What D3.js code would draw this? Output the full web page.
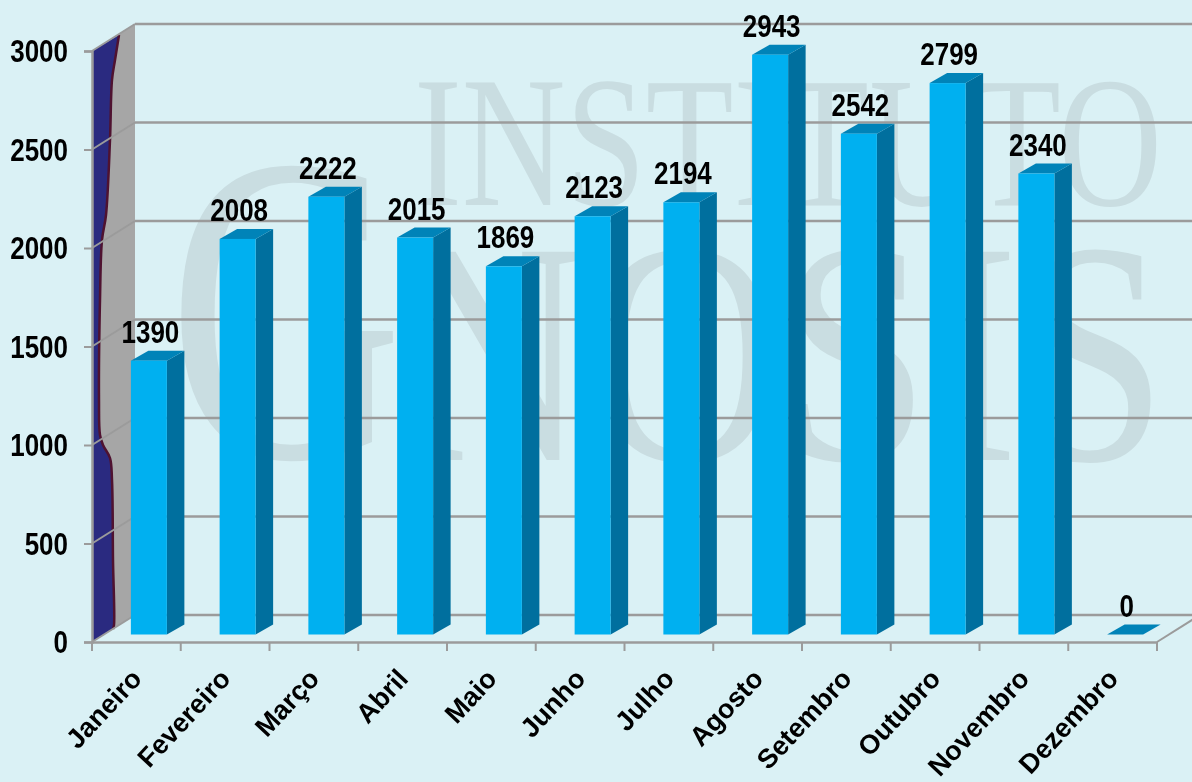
<!DOCTYPE html>
<html><head><meta charset="utf-8">
<script src="https://cdn.jsdelivr.net/npm/d3@7/dist/d3.min.js"></script>
<style>html,body{margin:0;padding:0;background:#daf1f5;overflow:hidden}svg{display:block;filter:blur(0.45px)}</style>
</head><body><div id="c"></div>
<script>
const months = ["Janeiro","Fevereiro","Março","Abril","Maio","Junho","Julho","Agosto","Setembro","Outubro","Novembro","Dezembro"];
const values = [1390,2008,2222,2015,1869,2123,2194,2943,2542,2799,2340,0];
const yTicks = [0,500,1000,1500,2000,2500,3000];
const wallBlob = [[119,35],[115,60],[112,80],[110,140],[106,215],[102,240],[100,300],[99,400],[100,435],[103,445],[110,458],[112,480],[113,560],[114,625],[113,629]];
const W=1192,H=782, depthX=43, depthY=27, grey="#9b9b9b", font="'Liberation Sans',Arial,sans-serif";
const svg=d3.select("#c").append("svg").attr("width",W).attr("height",H);
svg.append("rect").attr("width",W).attr("height",H).attr("fill","#daf1f5");
const x=d3.scaleBand().domain(months).range([92,1157]);
const y=d3.scaleLinear().domain([0,3000]).range([642,51]);

// watermark
const wm=svg.append("g").attr("fill","#c9dde1").attr("font-family","'Liberation Serif',serif");
wm.append("text").attr("x",414).attr("y",205).attr("font-size",186).attr("textLength",748).attr("lengthAdjust","spacingAndGlyphs").text("INSTITUTO");
wm.append("text").attr("x",168).attr("y",457).attr("font-size",440).attr("textLength",235).attr("lengthAdjust","spacingAndGlyphs").text("G");
wm.append("text").attr("x",395).attr("y",460).attr("font-size",318).attr("textLength",772).attr("lengthAdjust","spacingAndGlyphs").text("NOSIS");

// back grid
svg.append("g").selectAll("line").data(yTicks).join("line")
 .attr("x1",92+depthX).attr("x2",W).attr("y1",d=>y(d)-depthY).attr("y2",d=>y(d)-depthY)
 .attr("stroke",grey).attr("stroke-width",2.5);
// left wall
svg.append("polygon").attr("fill","#a6a6a6")
 .attr("points",[[92,y(3000)],[92+depthX,y(3000)-depthY],[92+depthX,y(0)-depthY],[92,y(0)]].join(" "));
svg.append("path").attr("fill","#2a2a80").attr("stroke","none")
 .attr("d",d3.line().curve(d3.curveCatmullRom)(wallBlob)+`L92,${y(0)}L92,${y(3000)}Z`);
svg.append("path").attr("fill","none").attr("stroke","#4f1230").attr("stroke-width",2.5)
 .attr("d",d3.line().curve(d3.curveCatmullRom)(wallBlob));
svg.append("g").selectAll("line").data(yTicks).join("line")
 .attr("x1",92).attr("x2",92+depthX).attr("y1",d=>y(d)).attr("y2",d=>y(d)-depthY)
 .attr("stroke",grey).attr("stroke-width",2);
svg.append("line").attr("x1",1157).attr("x2",1157+depthX).attr("y1",y(0)).attr("y2",y(0)-depthY).attr("stroke",grey).attr("stroke-width",2);

// axes
const ya=svg.append("g").attr("transform","translate(92,0)")
 .call(d3.axisLeft(y).tickValues(yTicks).tickFormat(d3.format("d")).tickSize(8).tickPadding(0));
ya.select(".domain").attr("stroke",grey).attr("stroke-width",2.5);
ya.selectAll(".tick line").attr("stroke",grey).attr("stroke-width",2);
ya.selectAll("text").attr("font-family",font).attr("font-weight","bold").attr("font-size",26).attr("fill","#000")
 .attr("text-anchor","end").attr("dy",null).attr("dominant-baseline","central")
 .attr("transform","translate(-16,0) scale(1,1.18)");
const xa=svg.append("g").attr("transform",`translate(0,${y(0)})`)
 .call(d3.axisBottom(x).tickSize(0).tickPadding(0));
xa.select(".domain").attr("stroke",grey).attr("stroke-width",2.5);
xa.selectAll("text").attr("font-family",font).attr("font-weight","bold").attr("font-size",27).attr("fill","#000")
 .attr("text-anchor","end").attr("dy",null).attr("y",0)
 .attr("transform","translate(7,38) rotate(-47)");
svg.append("g").selectAll("line").data(months.map(m=>x(m)).concat([x.range()[1]])).join("line")
 .attr("x1",d=>d).attr("x2",d=>d).attr("y1",y(0)).attr("y2",y(0)+9).attr("stroke",grey).attr("stroke-width",2);

// bars
const bw=36, bdx=17.5, bdy=10, off=12.5, lift=7.5;
const g=svg.append("g").selectAll("g").data(months.map((m,i)=>({m,v:values[i]}))).join("g")
 .attr("transform",d=>`translate(${x(d.m)+x.bandwidth()/2+off-bw/2},0)`);
const base=y(0)-lift;
g.filter(d=>d.v>0).append("polygon").attr("fill","#006f9e")
 .attr("points",d=>{const t=y(d.v)-lift;return [[bw,t],[bw+bdx,t-bdy],[bw+bdx,base-bdy],[bw,base]].join(" ")});
g.append("polygon").attr("fill","#0083b8")
 .attr("points",d=>{const t=y(d.v)-lift;return [[0,t],[bdx,t-bdy],[bw+bdx,t-bdy],[bw,t]].join(" ")});
g.filter(d=>d.v>0).append("rect").attr("fill","#00b0f0").attr("x",0).attr("width",bw)
 .attr("y",d=>y(d.v)-lift).attr("height",d=>base-(y(d.v)-lift));
g.append("text").attr("font-family",font).attr("font-weight","bold").attr("font-size",26).attr("fill","#000")
 .attr("text-anchor","middle")
 .attr("transform",d=>`translate(${bw/2+1.5},${y(d.v)-lift-18}) scale(1,1.18)`).text(d=>d.v);
</script></body></html>
